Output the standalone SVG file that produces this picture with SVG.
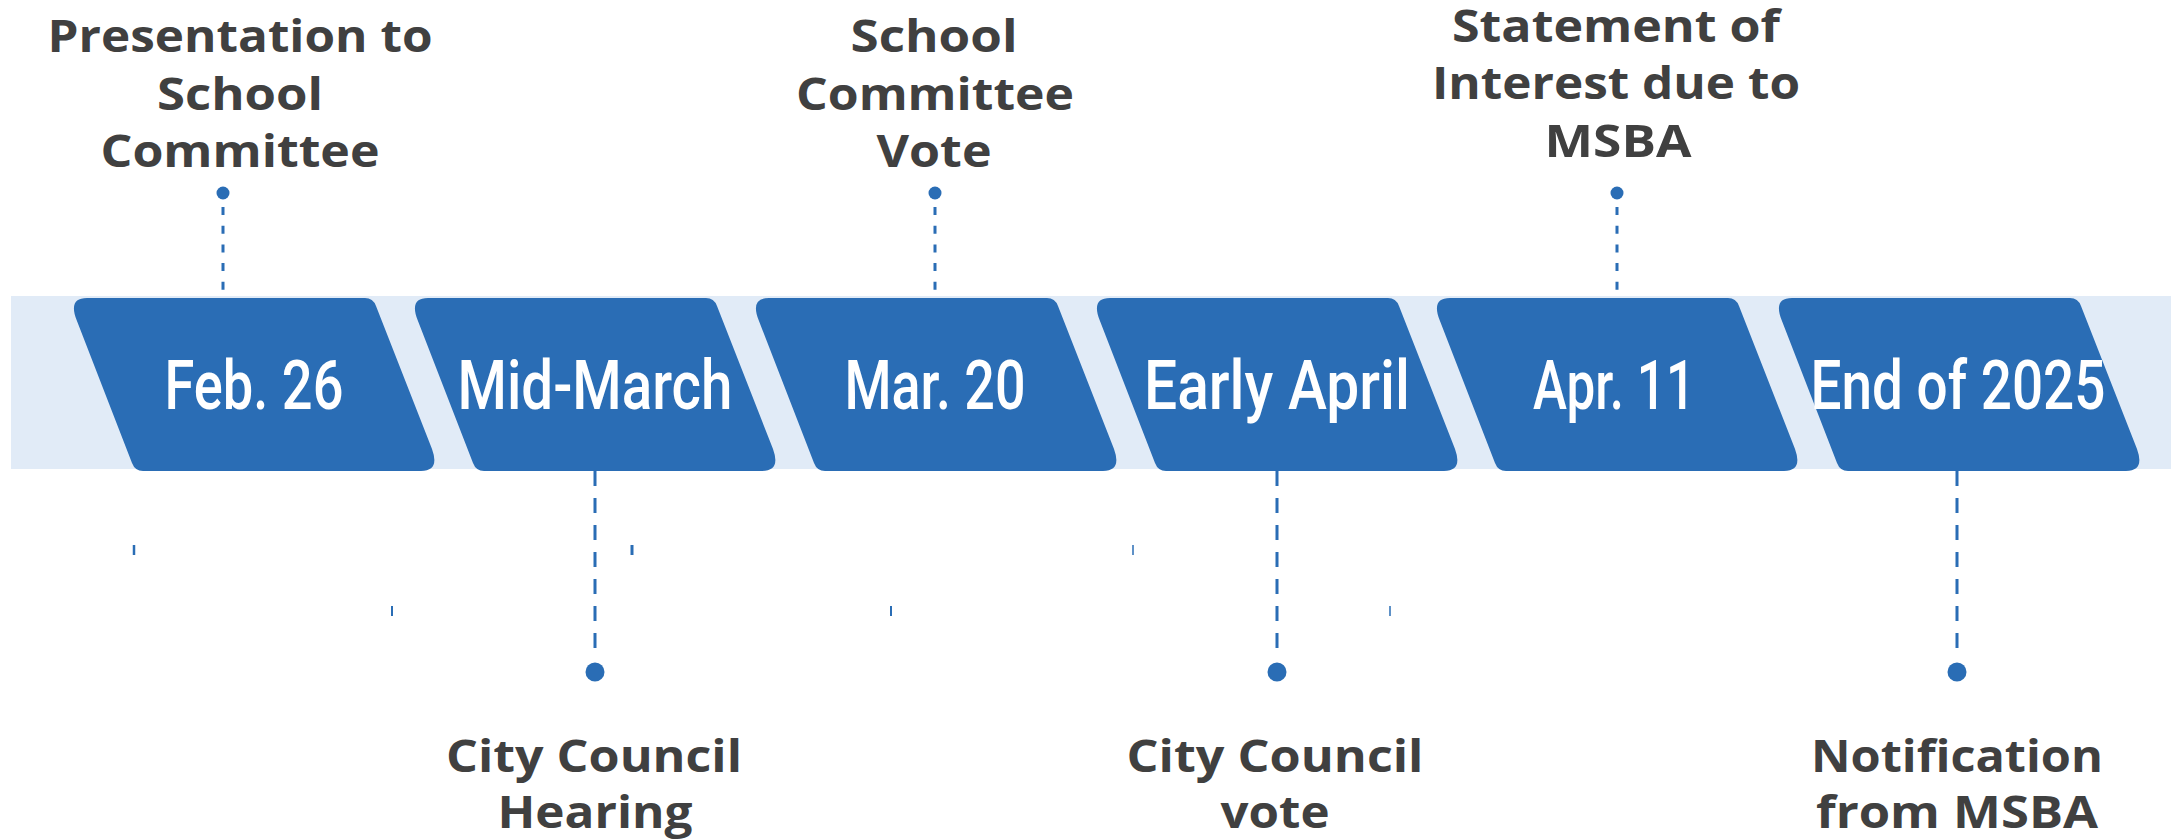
<svg xmlns="http://www.w3.org/2000/svg" width="2179" height="839" viewBox="0 0 2179 839">
  <defs>
    <style>
      .band { fill: #E1EBF7; }
      .chev { fill: #2A6DB5; }
      .date { font-family: Roboto, "Liberation Sans", sans-serif; font-weight: 500; font-size: 68px; fill: #FFFFFF; text-anchor: middle; }
      .lbl { font-family: "Open Sans", "Liberation Sans", sans-serif; font-weight: 700; font-size: 45px; fill: #404040; text-anchor: middle; }
      .dtop { stroke: #2A6DB5; stroke-width: 3; stroke-dasharray: 8 10.7; fill: none; }
      .dbot { stroke: #2A6DB5; stroke-width: 3; stroke-dasharray: 15 12; fill: none; }
      .tick { stroke: #2A6DB5; fill: none; }
      .dot { fill: #2A6DB5; }
    </style>
    <path id="chevShape" d="M 87,298 L 365,298 Q 373,298 376,306 L 432,449 Q 440,471 421,471 L 143,471 Q 135,471 132,463 L 76.6,320 Q 68,298 87,298 Z"/>
  </defs>

  <rect class="band" x="11" y="296" width="2160" height="173"/>

  <g id="connectors">
    <line class="dtop" x1="223" y1="207" x2="223" y2="300"/>
    <circle class="dot" cx="223" cy="193" r="6.5"/>
    <line class="dtop" x1="935" y1="207" x2="935" y2="300"/>
    <circle class="dot" cx="935" cy="193" r="6.5"/>
    <line class="dtop" x1="1617" y1="207" x2="1617" y2="300"/>
    <circle class="dot" cx="1617" cy="193" r="6.5"/>

    <line class="dbot" x1="595" y1="471" x2="595" y2="651"/>
    <circle class="dot" cx="595" cy="672" r="9.5"/>
    <line class="dbot" x1="1277" y1="471" x2="1277" y2="651"/>
    <circle class="dot" cx="1277" cy="672" r="9.5"/>
    <line class="dbot" x1="1957" y1="471" x2="1957" y2="651"/>
    <circle class="dot" cx="1957" cy="672" r="9.5"/>

    <line class="tick" stroke-width="2.5" x1="134" y1="545" x2="134" y2="555"/>
    <line class="tick" stroke-width="2" x1="392" y1="606" x2="392" y2="616"/>
    <line class="tick" stroke-width="3" x1="632" y1="545" x2="632" y2="555"/>
    <line class="tick" stroke-width="2" x1="891" y1="606" x2="891" y2="616"/>
    <line class="tick" stroke-width="1.5" x1="1133" y1="545" x2="1133" y2="555"/>
    <line class="tick" stroke-width="1.5" x1="1390" y1="606" x2="1390" y2="616"/>
  </g>

  <g id="node-feb26">
    <use href="#chevShape" class="chev"/>
    <text class="date" x="254" y="409" textLength="179" lengthAdjust="spacingAndGlyphs">Feb. 26</text>
    <text class="lbl" x="240" y="52" textLength="385" lengthAdjust="spacingAndGlyphs">Presentation to</text>
    <text class="lbl" x="240" y="110" textLength="166" lengthAdjust="spacingAndGlyphs">School</text>
    <text class="lbl" x="240" y="167" textLength="279" lengthAdjust="spacingAndGlyphs">Committee</text>
  </g>

  <g id="node-midmarch">
    <use href="#chevShape" class="chev" transform="translate(341,0)"/>
    <text class="date" x="595" y="409" textLength="275" lengthAdjust="spacingAndGlyphs">Mid-March</text>
    <text class="lbl" x="594" y="772" textLength="296" lengthAdjust="spacingAndGlyphs">City Council</text>
    <text class="lbl" x="595" y="828" textLength="195" lengthAdjust="spacingAndGlyphs">Hearing</text>
  </g>

  <g id="node-mar20">
    <use href="#chevShape" class="chev" transform="translate(682,0)"/>
    <text class="date" x="935" y="409" textLength="181" lengthAdjust="spacingAndGlyphs">Mar. 20</text>
    <text class="lbl" x="934" y="52" textLength="167" lengthAdjust="spacingAndGlyphs">School</text>
    <text class="lbl" x="935" y="110" textLength="278" lengthAdjust="spacingAndGlyphs">Committee</text>
    <text class="lbl" x="934" y="167" textLength="115" lengthAdjust="spacingAndGlyphs">Vote</text>
  </g>

  <g id="node-earlyapril">
    <use href="#chevShape" class="chev" transform="translate(1023,0)"/>
    <text class="date" x="1277" y="409" textLength="266" lengthAdjust="spacingAndGlyphs">Early April</text>
    <text class="lbl" x="1275" y="772" textLength="297" lengthAdjust="spacingAndGlyphs">City Council</text>
    <text class="lbl" x="1275" y="828" textLength="109" lengthAdjust="spacingAndGlyphs">vote</text>
  </g>

  <g id="node-apr11">
    <use href="#chevShape" class="chev" transform="translate(1363,0)"/>
    <text class="date" x="1614" y="409" textLength="162" lengthAdjust="spacingAndGlyphs">Apr. 11</text>
    <text class="lbl" x="1616" y="42" textLength="328" lengthAdjust="spacingAndGlyphs">Statement of</text>
    <text class="lbl" x="1616" y="99" textLength="368" lengthAdjust="spacingAndGlyphs">Interest due to</text>
    <text class="lbl" x="1618" y="157" textLength="147" lengthAdjust="spacingAndGlyphs">MSBA</text>
  </g>

  <g id="node-end2025">
    <use href="#chevShape" class="chev" transform="translate(1705,0)"/>
    <text class="date" x="1958" y="409" textLength="295" lengthAdjust="spacingAndGlyphs">End of 2025</text>
    <text class="lbl" x="1957" y="772" textLength="292" lengthAdjust="spacingAndGlyphs">Notification</text>
    <text class="lbl" x="1957" y="828" textLength="282" lengthAdjust="spacingAndGlyphs">from MSBA</text>
  </g>
</svg>
